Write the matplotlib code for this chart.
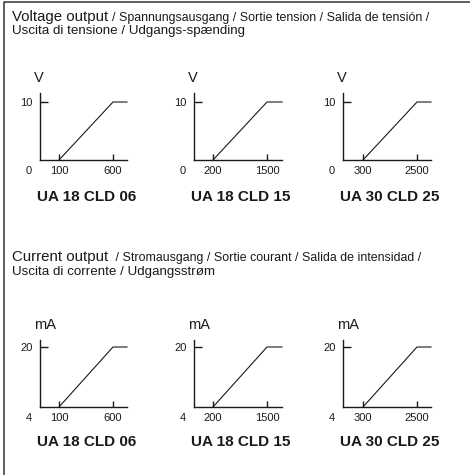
import matplotlib
matplotlib.use('Agg')
import matplotlib.pyplot as plt
from matplotlib.lines import Line2D

plt.rcParams['font.family'] = ['Liberation Sans', 'DejaVu Sans']

W, H = 470, 475

# Data
models = ['UA 18 CLD 06', 'UA 18 CLD 15', 'UA 30 CLD 25']
x_start = [100, 200, 300]
x_end = [600, 1500, 2500]
v_range = (0, 10)
i_range = (4, 20)
v_unit = 'V'
i_unit = 'mA'

v_head = 'Voltage output'
v_head_rest = '/ Spannungsausgang / Sortie tension / Salida de tensión /'
v_head_2 = 'Uscita di tensione / Udgangs-spænding'
i_head = 'Current output'
i_head_rest = ' / Stromausgang / Sortie courant / Salida de intensidad /'
i_head_2 = 'Uscita di corrente / Udgangsstrøm'

# layout in pixels (from top-left)
col_left = [40, 194, 343]
col_right = [127, 282, 431]
tick_px = [(59, 113), (213, 267), (363, 417)]
rows = [dict(top=93, bottom=160, ytick=102, title=-37),
        dict(top=340, bottom=407, ytick=347, title=-35)]

fig = plt.figure(figsize=(W / 100, H / 100), dpi=100)
ink = '#1a1a1a'


def panel(c, row, yr, unit):
    L, R = col_left[c], col_right[c]
    T, B = row['top'], row['bottom']
    ax = fig.add_axes([L / W, 1 - B / H, (R - L) / W, (B - T) / H])
    a, b = x_start[c], x_end[c]
    pa, pb = tick_px[c]
    s = (pb - pa) / (b - a)
    x0 = a - (pa - L) / s
    x1 = b + (R - pb) / s
    y0, y1 = yr
    ytop = y0 + (y1 - y0) * (B - T) / (B - row['ytick'])
    ax.plot([a, b, x1], [y0, y1, y1], color=ink, lw=0.8, clip_on=False)
    ax.set_xlim(x0, x1)
    ax.set_ylim(y0, ytop)
    for sp in ['top', 'right']:
        ax.spines[sp].set_visible(False)
    for sp in ['left', 'bottom']:
        ax.spines[sp].set_linewidth(1.0)
        ax.spines[sp].set_color(ink)
    ax.set_xticks([a, b])
    ax.set_yticks([y1])
    ax.tick_params(axis='x', direction='in', length=4.3, width=1.0, pad=4,
                   labelsize=8, colors=ink)
    ax.tick_params(axis='y', direction='in', length=5.8, width=1.0, pad=5.5,
                   labelsize=8, colors=ink)
    ax.patch.set_alpha(0)
    # origin value
    ax.annotate(str(y0), xy=(0, 0), xycoords='axes fraction', xytext=(-11, -11),
                textcoords='offset pixels', ha='center', va='center',
                fontsize=8, color=ink)
    # unit
    ax.annotate(unit, xy=(0, 1), xycoords='axes fraction', xytext=(-6, 15),
                textcoords='offset pixels', ha='left', va='center',
                fontsize=10.5, color=ink)
    # model
    ax.annotate(models[c], xy=(0.5, 0), xycoords='axes fraction',
                xytext=(3, row['title']), textcoords='offset pixels',
                ha='center', va='center', fontsize=11, fontweight='bold',
                color=ink)


for c in range(3):
    panel(c, rows[0], v_range, v_unit)
    panel(c, rows[1], i_range, i_unit)


# headers: big text then smaller continuation, second line below
def head(y_base, big, rest, line2):
    t = fig.text(12 / W, 1 - y_base / H, big, fontsize=10.8, color=ink,
                 va='baseline')
    fig.canvas.draw()
    bb = t.get_window_extent()
    fig.text((bb.x1 + 4) / W, 1 - y_base / H, rest, fontsize=8.9, color=ink,
             va='baseline')
    fig.text(12 / W, 1 - (y_base + 13.5) / H, line2, fontsize=9.6, color=ink,
             va='baseline')


head(20.5, v_head, v_head_rest, v_head_2)
head(261, i_head, i_head_rest, i_head_2)

# frame: top and left edge
fig.add_artist(Line2D([4 / W, 4 / W, 1], [0, 1 - 2 / H, 1 - 2 / H],
                      transform=fig.transFigure, color='#333333', lw=1.1))

fig.savefig('out.png', dpi=100)
